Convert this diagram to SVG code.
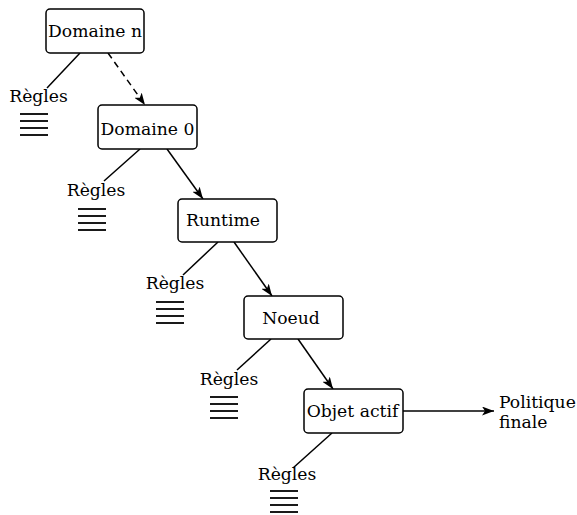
<svg xmlns="http://www.w3.org/2000/svg" width="577" height="515" viewBox="0 0 577 515">
  <style>
    .box { fill: #fff; stroke: #000; stroke-width: 1.5; }
    .lbl { font-family: "DejaVu Serif", "Liberation Serif", serif; font-size: 17.2px; fill: #000; }
    .mid { text-anchor: middle; }
    .edge { stroke: #000; stroke-width: 1.5; fill: none; }
    .dash { stroke-dasharray: 6.5 4.5; }
    .rule { stroke: #000; stroke-width: 1.8; }
  </style>
  <defs>
    <marker id="arrow" viewBox="0 0 12 9" refX="12" refY="4.5" markerWidth="12" markerHeight="9" markerUnits="userSpaceOnUse" orient="auto">
      <path d="M0,0 L12,4.5 L0,9 L3,4.5 Z" fill="#000"/>
    </marker>
    <!-- stack of rule lines shown under each "Règles" label -->
    <g id="rules">
      <line class="rule" x1="0" y1="0" x2="28" y2="0"/>
      <line class="rule" x1="0" y1="7" x2="28" y2="7"/>
      <line class="rule" x1="0" y1="14" x2="28" y2="14"/>
      <line class="rule" x1="0" y1="21" x2="28" y2="21"/>
    </g>
  </defs>

  <g id="connectors">
    <line class="edge" x1="80" y1="53" x2="47" y2="88"/>
    <line class="edge dash" x1="108" y1="53" x2="145" y2="105" marker-end="url(#arrow)"/>
    <line class="edge" x1="140" y1="149" x2="104" y2="181"/>
    <line class="edge" x1="167" y1="149" x2="203" y2="199" marker-end="url(#arrow)"/>
    <line class="edge" x1="218" y1="242" x2="183" y2="275"/>
    <line class="edge" x1="234" y1="242" x2="272" y2="296" marker-end="url(#arrow)"/>
    <line class="edge" x1="271" y1="339" x2="237" y2="370"/>
    <line class="edge" x1="298" y1="339" x2="333" y2="389" marker-end="url(#arrow)"/>
    <line class="edge" x1="332" y1="433" x2="293" y2="468"/>
    <line class="edge" x1="403" y1="411" x2="494" y2="411" marker-end="url(#arrow)"/>
  </g>

  <g id="domaine-n">
    <rect class="box" x="46" y="9" width="98" height="44" rx="4"/>
    <text class="lbl mid" x="95" y="37">Domaine n</text>
  </g>
  <g id="domaine-0">
    <rect class="box" x="98" y="105" width="99" height="44" rx="4"/>
    <text class="lbl mid" x="147.5" y="135">Domaine 0</text>
  </g>
  <g id="runtime">
    <rect class="box" x="178" y="199" width="99" height="43" rx="4"/>
    <text class="lbl mid" x="223" y="226">Runtime</text>
  </g>
  <g id="noeud">
    <rect class="box" x="244" y="296" width="99" height="43" rx="4"/>
    <text class="lbl mid" x="291" y="324">Noeud</text>
  </g>
  <g id="objet-actif">
    <rect class="box" x="304" y="389" width="99" height="44" rx="4"/>
    <text class="lbl mid" x="352.5" y="417">Objet actif</text>
  </g>
  <g id="politique-finale">
    <text class="lbl" x="499" y="408">Politique</text>
    <text class="lbl" x="499" y="428">finale</text>
  </g>

  <g id="regles-n">
    <text class="lbl mid" x="38.5" y="102">Règles</text>
    <use href="#rules" x="20" y="114"/>
  </g>
  <g id="regles-0">
    <text class="lbl mid" x="96" y="196">Règles</text>
    <use href="#rules" x="78" y="209"/>
  </g>
  <g id="regles-runtime">
    <text class="lbl mid" x="175" y="289">Règles</text>
    <use href="#rules" x="156" y="302"/>
  </g>
  <g id="regles-noeud">
    <text class="lbl mid" x="229" y="385">Règles</text>
    <use href="#rules" x="210" y="397"/>
  </g>
  <g id="regles-objet">
    <text class="lbl mid" x="287" y="480">Règles</text>
    <use href="#rules" x="270" y="491"/>
  </g>
</svg>
